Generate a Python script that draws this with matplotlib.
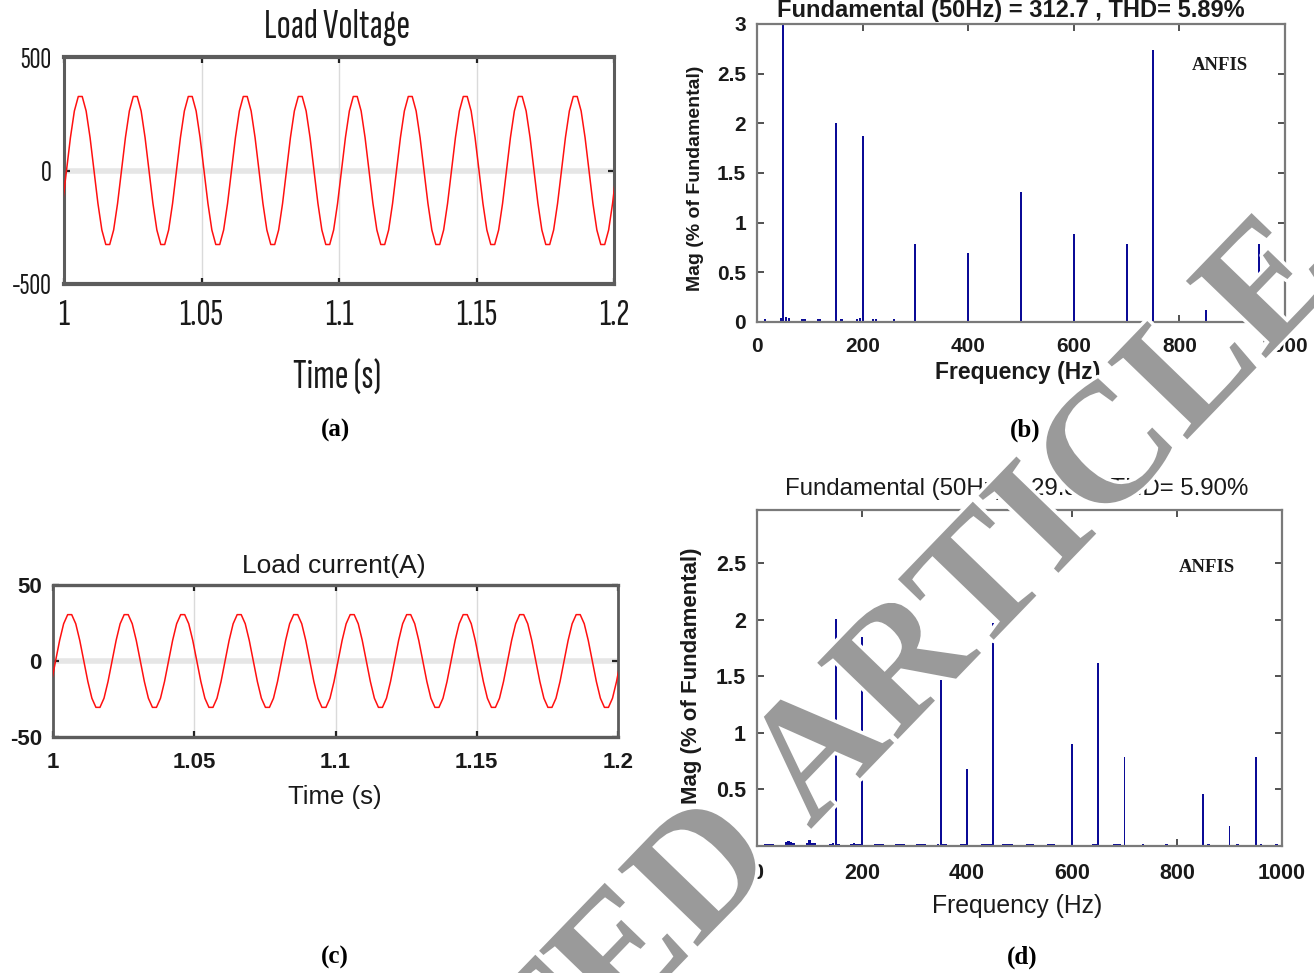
import os
import numpy as np
import matplotlib
matplotlib.use('Agg')
import matplotlib.pyplot as plt
import matplotlib.patheffects as pe
from matplotlib import font_manager
from matplotlib.font_manager import FontProperties

plt.rcParams['axes.unicode_minus'] = False

# ---------------- data ----------------
# one cycle of the sampled load voltage (V), 14 samples per 50 Hz cycle, read from plot
voltage_cycle = [-145, 0, 145, 262, 326, 326, 262, 145, 0, -145, -262, -326, -326, -262]
# one cycle of the sampled load current (A)
current_cycle = [-13.5, 0, 13.5, 24.5, 30.5, 30.5, 24.5, 13.5, 0, -13.5, -24.5, -30.5, -30.5, -24.5]
t_first_sample = 0.99948
sample_step = 0.02 / 14

time_ticks = [1, 1.05, 1.1, 1.15, 1.2]
time_ticklabels = ['1', '1.05', '1.1', '1.15', '1.2']
volt_ticks = [-500, 0, 500]
curr_ticks = [-50, 0, 50]

# spectrum (b): load voltage harmonics, % of fundamental
b_freq = [50, 150, 200, 300, 400, 500, 600, 700, 750, 850, 950]
b_mag = [100, 2.0, 1.87, 0.79, 0.69, 1.31, 0.89, 0.79, 2.74, 0.12, 0.79]
b_small_freq = [15, 45, 55, 60, 85, 90, 115, 120, 160, 190, 195, 220, 225, 260, 290,
                330, 335, 360, 365, 435, 440, 465, 470, 540, 560, 610, 640, 680, 690,
                720, 780, 810, 900]
b_small_mag = [0.03, 0.04, 0.05, 0.04, 0.03, 0.03, 0.03, 0.03, 0.03, 0.03, 0.04, 0.03,
               0.03, 0.03, 0.015, 0.015, 0.015, 0.015, 0.015, 0.015, 0.015, 0.015, 0.015,
               0.01, 0.01, 0.01, 0.01, 0.01, 0.01, 0.01, 0.01, 0.01, 0.01]

# spectrum (d): load current harmonics, % of fundamental
d_freq = [150, 200, 350, 400, 450, 600, 650, 700, 850, 900, 950]
d_mag = [2.01, 1.85, 1.47, 0.68, 1.97, 0.90, 1.62, 0.79, 0.46, 0.18, 0.79]
d_small_freq = [15, 20, 25, 30, 55, 60, 65, 70, 95, 100, 105, 110, 140, 145, 155,
                180, 185, 190, 195, 225, 230, 235, 240, 265, 270, 275, 280,
                305, 310, 315, 320, 345, 355, 360, 390, 395, 430, 435, 440, 445,
                470, 475, 480, 485, 515, 520, 525, 555, 560, 565, 640, 645,
                680, 685, 690, 735, 780, 860, 915, 960, 990]
d_small_mag = [0.02, 0.02, 0.02, 0.02, 0.035, 0.04, 0.035, 0.03, 0.025, 0.05, 0.03, 0.025,
               0.02, 0.025, 0.02, 0.02, 0.025, 0.02, 0.02, 0.02, 0.02, 0.02, 0.02,
               0.02, 0.02, 0.02, 0.02, 0.02, 0.02, 0.02, 0.02, 0.02, 0.02, 0.02,
               0.02, 0.02, 0.015, 0.015, 0.015, 0.015, 0.02, 0.015, 0.02, 0.015,
               0.015, 0.02, 0.015, 0.015, 0.015, 0.015, 0.015, 0.015, 0.015, 0.015,
               0.015, 0.015, 0.015, 0.015, 0.015, 0.015, 0.015]

freq_ticks = [0, 200, 400, 600, 800, 1000]
mag_ticks_b = [0, 0.5, 1, 1.5, 2, 2.5, 3]
mag_ticks_d = [0, 0.5, 1, 1.5, 2, 2.5]

title_b = 'Fundamental (50Hz) = 312.7 , THD= 5.89%'
title_d = 'Fundamental (50Hz) = 29.83 , THD= 5.90%'

# ---------------- figure ----------------
W, H = 1314, 973
fig = plt.figure(figsize=(W / 100, H / 100), dpi=100)
fig.patch.set_facecolor('white')
renderer = fig.canvas.get_renderer()

SANS = 'Liberation Sans'
SERIF = 'Liberation Serif'
TXT = '#1a1a1a'


def _weight(f):
    w = f.weight
    if isinstance(w, str):
        w = font_manager.weight_dict.get(w, 400)
    return w


def _measure(fp, text):
    p = fp.copy()
    p.set_size(10)
    w, h, d = renderer.get_text_width_height_descent(text, p, ismath=False)
    return w, h


def pick_condensed(target_ratio=4.97):
    """Among condensed sans-serif faces, pick the one whose width/cap-height suits the narrow labels."""
    best, best_err = FontProperties(family=SANS), None
    seen = set()
    for f in font_manager.fontManager.ttflist:
        fn = os.path.basename(f.fname).lower()
        nm = f.name.lower()
        if f.style != 'normal' or _weight(f) not in (400, 500):
            continue
        if 'italic' in fn or 'oblique' in fn or 'mono' in nm:
            continue
        if not ('sans' in nm or 'roboto' in nm or 'narrow' in nm):
            continue
        if not ('cond' in fn or 'narrow' in fn or 'narrow' in nm):
            continue
        if f.fname in seen:
            continue
        seen.add(f.fname)
        try:
            fp = FontProperties(fname=f.fname)
            w, _ = _measure(fp, 'Load Voltage')
            _, hc = _measure(fp, 'H')
        except Exception:
            continue
        if hc <= 0:
            continue
        err = abs(w / hc - target_ratio)
        if best_err is None or err < best_err:
            best, best_err = fp, err
    return best


COND = pick_condensed()


def fitted(fp, text, target_px, max_pt):
    w, h = _measure(fp, text)
    p = fp.copy()
    p.set_size(min(10 * target_px / w, max_pt))
    return p


def add_ax(l, t, r, b):
    return fig.add_axes([l / W, 1 - b / H, (r - l) / W, (b - t) / H])


def ftext(x, y, s, **kw):
    return fig.text(x / W, 1 - y / H, s, **kw)


def sampled_wave(cycle, n_cycles):
    vals = np.tile(np.asarray(cycle, dtype=float), n_cycles)
    t = t_first_sample + np.arange(vals.size) * sample_step
    return t, vals


def style_time(ax, lw_tb, lw_lr, yticks, fp_x, fp_y, padx, pady):
    for s in ('top', 'bottom'):
        ax.spines[s].set_linewidth(lw_tb)
        ax.spines[s].set_color('#5c5c5c')
    for s in ('left', 'right'):
        ax.spines[s].set_linewidth(lw_lr)
        ax.spines[s].set_color('#5c5c5c')
    ax.grid(axis='x', color='#dadada', lw=1.0, zorder=0)
    ax.axhline(0, color='#e6e6e6', lw=4, zorder=0.5)
    ax.set_xlim(1, 1.2)
    ax.set_xticks(time_ticks)
    ax.set_xticklabels(time_ticklabels, fontproperties=fp_x)
    ax.set_yticks(yticks)
    ax.set_yticklabels([str(v) for v in yticks], fontproperties=fp_y)
    ax.tick_params(axis='both', direction='in', top=True, right=True, length=4,
                   width=1.6, color='#222222', labelcolor=TXT)
    ax.tick_params(axis='x', pad=padx)
    ax.tick_params(axis='y', pad=pady)


def style_freq(ax, ticks_y, fsize, padx, pady):
    for s in ax.spines.values():
        s.set_linewidth(1.6)
        s.set_color('#7a7a7a')
    ax.set_xlim(0, 1000)
    fp = FontProperties(family=SANS, weight='bold', size=fsize)
    ax.set_xticks(freq_ticks)
    ax.set_xticklabels([str(v) for v in freq_ticks], fontproperties=fp)
    ax.set_yticks(ticks_y)
    ax.set_yticklabels([('%g' % v) for v in ticks_y], fontproperties=fp)
    ax.tick_params(axis='both', direction='in', top=True, right=True, length=5,
                   width=1.2, color='#333333', labelcolor=TXT)
    ax.tick_params(axis='x', pad=padx)
    ax.tick_params(axis='y', pad=pady)


RED = '#ff1010'
NAVY = '#0b0b96'

# ---- (a) load voltage ----
axa = add_ax(64, 57, 614, 284)
ta, va = sampled_wave(voltage_cycle, 11)
axa.plot(ta, va, color=RED, lw=1.1, zorder=3)
axa.set_ylim(-500, 500)
fp_a_x = fitted(COND, '1.05', 49, 28)
fp_a_y = fitted(COND, '-500', 40, 28)
style_time(axa, 3.0, 2.2, volt_ticks, fp_a_x, fp_a_y, 11, 9)
ftext(337, 28, 'Load Voltage', ha='center', va='center', color=TXT,
      fontproperties=fitted(COND, 'Load Voltage', 152, 30))
ftext(337, 378, 'Time (s)', ha='center', va='center', color=TXT,
      fontproperties=fitted(COND, 'Time (s)', 94, 30))
ftext(335, 430, '(a)', ha='center', va='center', fontsize=18, family=SERIF, weight='bold', color='black')

# ---- (c) load current ----
axc = add_ax(53, 585, 618, 737)
tc, vc = sampled_wave(current_cycle, 11)
axc.plot(tc, vc, color=RED, lw=1.1, zorder=3)
axc.set_ylim(-50, 50)
fp_c = FontProperties(family=SANS, weight='bold', size=16)
style_time(axc, 2.4, 2.0, curr_ticks, fp_c, fp_c, 11, 8)
ftext(334, 566, 'Load current(A)', ha='center', va='center', fontsize=19, family=SANS, color=TXT)
ftext(335, 797, 'Time (s)', ha='center', va='center', fontsize=18.5, family=SANS, color=TXT)
ftext(335, 957, '(c)', ha='center', va='center', fontsize=18, family=SERIF, weight='bold', color='black')

# ---- (b) voltage spectrum ----
axb = add_ax(757, 24, 1285, 322)
axb.bar(b_small_freq, b_small_mag, width=4, color=NAVY, linewidth=0, zorder=2)
axb.bar(b_freq, b_mag, width=3.5, color=NAVY, linewidth=0, zorder=2)
axb.set_ylim(0, 3)
style_freq(axb, mag_ticks_b, 15, 11, 8)
ftext(1011, 10, title_b, ha='center', va='center', fontsize=17, family=SANS, weight='bold', color=TXT)
ftext(1018, 373, 'Frequency (Hz)', ha='center', va='center', fontsize=16.5, family=SANS, weight='bold', color=TXT)
ftext(695, 178, 'Mag (% of Fundamental)', ha='center', va='center', rotation=90, fontsize=14,
      family=SANS, weight='bold', color=TXT)
ftext(1220, 65, 'ANFIS', ha='center', va='center', fontsize=13.5, family=SERIF, weight='bold', color=TXT)
ftext(1025, 430, '(b)', ha='center', va='center', fontsize=18, family=SERIF, weight='bold', color='black')

# ---- (d) current spectrum ----
axd = add_ax(757, 510, 1282, 846)
axd.bar(d_small_freq, d_small_mag, width=5, color=NAVY, linewidth=0, zorder=2)
axd.bar(d_freq, d_mag, width=3.5, color=NAVY, linewidth=0, zorder=2)
axd.set_ylim(0, 2.97)
style_freq(axd, mag_ticks_d, 15.5, 12, 8)
ftext(1017, 489, title_d, ha='center', va='center', fontsize=17.3, family=SANS, color=TXT)
ftext(1017, 906, 'Frequency (Hz)', ha='center', va='center', fontsize=17.8, family=SANS, color=TXT)
ftext(692, 676, 'Mag (% of Fundamental)', ha='center', va='center', rotation=90, fontsize=16,
      family=SANS, weight='bold', color=TXT)
ftext(1207, 567, 'ANFIS', ha='center', va='center', fontsize=13.5, family=SERIF, weight='bold', color=TXT)
ftext(1022, 957, '(d)', ha='center', va='center', fontsize=18, family=SERIF, weight='bold', color='black')

# ---- watermark ----
wm_kw = dict(rotation=46, rotation_mode='anchor', va='baseline', fontsize=122,
             family=SERIF, weight='bold', color='#9a9a9a', zorder=10,
             path_effects=[pe.withStroke(linewidth=5, foreground='white')])
ftext(810, 830, 'ARTICLE', ha='left', **wm_kw)
ftext(810, 830, 'RETRACTED ', ha='right', **wm_kw)

fig.savefig('out.png', dpi=100, facecolor='white')
